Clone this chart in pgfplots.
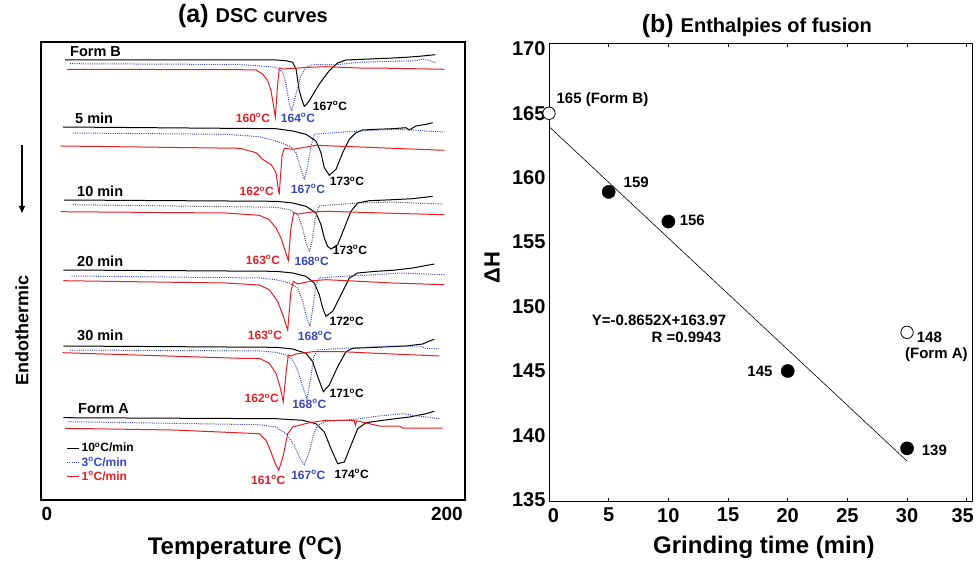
\documentclass[border=0pt]{standalone}
\usepackage{fontspec}
\setmainfont{Liberation Sans}
\usepackage{pgfplots}
\pgfplotsset{compat=1.18}
\usetikzlibrary{arrows.meta}
\definecolor{cred}{RGB}{228,30,36}
\definecolor{cblue}{RGB}{55,70,190}
\definecolor{cgray}{RGB}{80,80,80}
\newcommand{\F}[1]{\bfseries\fontsize{#1}{#1}\selectfont}
\newcommand{\dg}{\textsuperscript{o}}
\begin{document}
\begin{tikzpicture}
\path[use as bounding box] (0pt,0pt) rectangle (976pt,560pt);
% ---------------- (a) DSC curves ----------------
\begin{axis}[
  at={(41pt,60pt)}, anchor=south west, scale only axis,
  width=424pt, height=458pt,
  xmin=108.79, xmax=202.2, ymin=60, ymax=518,
  xtick={110.1,198.2}, xticklabels={0,200},
  xtick style={draw=none}, ytick=\empty,
  axis line style={line width=1.2pt},
  ticklabel style={font=\F{19}},
  xticklabel style={yshift=-4pt},
  /pgf/number format/assume math mode=true,
  clip=false,
  title={\F{25}(a)\ \F{20}DSC curves},
  title style={yshift=5pt},
  xlabel={Temperature (\dg C)},
  xlabel style={font=\F{24}, at={(axis description cs:0.481,0)}, anchor=center, yshift=-48pt},
  ylabel={Endothermic},
  ylabel style={font=\F{18}, at={(axis description cs:0,0.371)}, anchor=center, yshift=19pt},
  legend style={at={(axis description cs:0.06,0.035)}, anchor=south west, draw=none, fill=none,
    inner sep=0pt, font=\F{12}, cells={anchor=west}, row sep=0pt},
  legend image code/.code={\draw[#1] (0pt,0pt) -- (12pt,0pt);},
]
% Form B
\addplot[black, line width=1pt] coordinates {(114.08,500) (160.56,500) (162.76,499.3) (164.24,497.7) (164.97,491) (165.69,469.3) (166.29,460) (166.79,453.7) (167.17,455) (167.90,459.3) (170.10,476) (172.30,489.3) (174.15,497) (175.98,500) (186.27,502) (189.20,502.7) (192.13,503.7) (195.65,505.3)};
\addplot[cblue, line width=1pt, dash pattern=on 1pt off 1.2pt] coordinates {(115.18,496.3) (152.63,495.5) (160.56,492.7) (162.04,487.7) (162.76,476) (163.49,456) (164.02,449.3) (164.97,466) (166.07,484.3) (167.17,492.7) (168.64,495.3) (173.78,495.3) (178.84,497.7) (186.27,498.7) (191.40,499.3) (192.88,501) (194.33,499.5) (195.81,497)};
\addplot[cred, line width=1pt] coordinates {(114.52,490.7) (152.63,490.3) (156.15,490) (157.63,486) (158.73,479.3) (159.46,469.3) (159.96,456) (160.41,443) (160.93,476) (161.29,492) (162.04,491) (167.90,492.7) (171.57,493.3) (178.91,492) (186.27,491.7) (197.64,490.7)};
\legend{{\textcolor{black}{10\dg C/min}},{\textcolor{cblue}{3\dg C/min}},{\textcolor{cred}{1\dg C/min}}}
% 5 min
\addplot[black, line width=1pt] coordinates {(113.64,433) (160.56,431.3) (164.24,429) (167.17,425.7) (169.37,419) (170.47,407.3) (171.20,392.3) (172.30,384.7) (173.78,390.7) (175.25,407.3) (176.71,420.7) (178.18,427.3) (179.66,430) (182.59,430.7) (186.27,431.3) (189.20,432.3) (189.93,430) (191.40,434) (193.60,435.7) (195.08,437.3)};
\addplot[cblue, line width=1pt, dash pattern=on 1pt off 1.2pt] coordinates {(115.84,427) (149.54,425.7) (156.88,423.3) (160.56,419) (163.49,414) (164.97,407.3) (166.07,390.7) (166.79,380.7) (167.54,394) (168.27,414) (169.00,425.7) (171.57,426.7) (178.91,429) (186.27,430.7) (190.67,430) (193.60,429) (197.64,428)};
\addplot[cred, line width=1pt] coordinates {(113.13,414) (152.63,411.7) (156.15,407.3) (157.63,400.7) (158.73,397.3) (159.46,395.7) (160.56,387.3) (161.15,368) (161.29,366.7) (161.88,404) (162.39,411.7) (164.24,410.7) (166.44,412.3) (169.37,414.7) (178.91,413) (186.27,411.7) (197.64,409.7)};
% 10 min
\addplot[black, line width=1pt] coordinates {(113.86,360) (160.56,358.7) (164.24,357) (167.17,353.7) (169.37,347) (170.47,335.3) (171.20,322) (171.94,313.7) (172.68,311) (174.15,315.3) (175.61,332) (177.08,348.7) (178.56,357) (181.11,359.3) (186.27,360.3) (190.67,361.3) (195.08,363.7)};
\addplot[cgray, line width=1pt, dash pattern=on 1pt off 1.2pt] coordinates {(115.84,355.3) (160.56,352.7) (163.49,350.3) (165.34,345.3) (166.44,332) (167.17,317) (167.90,308) (168.49,318.7) (169.22,342) (169.97,353.7) (171.57,354.7) (178.91,357) (186.27,358) (190.67,357) (197.28,356)};
\addplot[cred, line width=1pt] coordinates {(113.13,348.3) (149.54,347) (156.88,344.7) (159.08,340.3) (160.56,332) (161.66,322) (162.61,308.7) (163.27,299.5) (163.86,332) (164.46,347) (165.34,346) (168.64,348) (171.57,348.7) (178.91,347.7) (186.27,346.7) (197.64,345.3)};
% 20 min
\addplot[black, line width=1pt] coordinates {(113.70,290) (160.56,288.7) (164.24,287) (167.17,283.7) (169.00,277) (170.10,265.3) (170.85,252) (171.57,243.7) (173.05,248.7) (174.88,265.3) (176.71,282) (178.56,287) (182.59,288.7) (186.27,289.7) (190.67,292) (195.43,296)};
\addplot[cblue, line width=1pt, dash pattern=on 1pt off 1.2pt] coordinates {(115.56,284) (156.88,282) (160.56,280.3) (163.49,277) (165.34,272) (166.44,258.7) (167.32,242) (168.05,233.5) (168.78,255.3) (169.37,275.3) (170.10,282) (175.25,283.7) (182.59,285.3) (187.72,287) (193.60,286) (197.64,285.3)};
\addplot[cred, line width=1pt] coordinates {(113.70,279.3) (149.54,277) (156.88,275) (159.08,270.3) (160.93,258.7) (162.04,245.3) (163.14,230) (163.86,268.7) (164.37,278.7) (165.34,276) (168.64,279.3) (171.57,280.3) (178.91,278.7) (186.27,277) (197.64,275.3)};
% 30 min
\addplot[black, line width=1pt] coordinates {(113.70,214) (160.56,212.7) (164.24,211) (167.17,206.7) (168.64,198.3) (169.75,183.3) (170.98,168.3) (172.30,175) (174.15,193.3) (175.98,208.3) (177.46,211.7) (182.59,212.7) (189.20,214) (192.88,216) (193.98,218.3) (195.43,220.7)};
\addplot[cblue, line width=1pt, dash pattern=on 1pt off 1.2pt] coordinates {(115.18,210) (156.88,209) (160.56,207.7) (162.76,205) (164.24,200) (165.34,190) (166.44,173.3) (167.39,161) (168.27,183.3) (168.86,203.3) (169.75,210) (175.25,211.7) (186.27,214) (192.13,214) (193.60,211.7) (196.53,211)};
\addplot[cred, line width=1pt] coordinates {(113.57,207.3) (152.63,201.7) (156.88,201.7) (159.08,196.7) (160.56,186.7) (161.44,173.3) (162.17,158.3) (162.76,186.7) (163.27,205) (163.86,204) (164.97,206) (168.64,208.3) (175.25,208.3) (182.59,206.7) (196.53,204)};
% Form A
\addplot[black, line width=1pt] coordinates {(113.70,142.3) (160.56,141.3) (166.44,139.7) (169.37,136.3) (171.20,128) (172.68,111.3) (174.15,96.3) (175.61,98) (177.08,114.7) (178.56,131.3) (180.39,137.3) (184.07,139.7) (189.93,143) (193.60,146.3) (195.43,148.7)};
\addplot[cblue, line width=1pt, dash pattern=on 1pt off 1.2pt] coordinates {(114.80,138.3) (156.88,135.3) (160.56,133) (162.76,126.3) (164.59,114.7) (165.85,101.3) (166.79,95.3) (167.90,108) (168.78,124.7) (169.75,134.7) (171.57,138.7) (175.25,139.7) (178.91,141.3) (182.59,143.7) (188.47,146.3) (190.67,144.7) (193.60,143) (196.53,141.3)};
\addplot[cred, line width=1pt] coordinates {(114.08,131.7) (137.87,130) (156.88,126.3) (158.36,119.7) (159.46,108) (160.34,97) (161.15,89.7) (161.66,97) (162.17,104.7) (163.14,126.3) (164.24,133) (167.90,137.3) (171.57,139.7) (175.25,139.7) (177.81,139.5) (178.03,134.7) (178.34,139.2) (181.11,136.3) (183.32,134) (187.72,134) (188.47,132) (197.28,132)};
% labels
\begin{scope}[every node/.style={inner sep=0pt}]
\node[anchor=west, font=\F{14.5}] at (axis cs:115.18,508) {Form B};
\node[text=cred, font=\F{12}] at (axis cs:155.49,442) {160\dg C};
\node[text=cblue, font=\F{12}] at (axis cs:165.41,442) {164\dg C};
\node[font=\F{12}] at (axis cs:172.46,454) {167\dg C};
\node[anchor=west, font=\F{14.5}] at (axis cs:116.28,442) {5 min};
\node[text=cred, font=\F{12}] at (axis cs:156.31,368.3) {162\dg C};
\node[text=cblue, font=\F{12}] at (axis cs:167.61,371) {167\dg C};
\node[font=\F{12}] at (axis cs:176.20,378.3) {173\dg C};
\node[anchor=west, font=\F{14.5}] at (axis cs:116.72,368.3) {10 min};
\node[text=cred, font=\F{12}] at (axis cs:157.70,300) {163\dg C};
\node[text=cblue, font=\F{12}] at (axis cs:168.42,298.3) {168\dg C};
\node[font=\F{12}] at (axis cs:176.86,310) {173\dg C};
\node[anchor=west, font=\F{14.5}] at (axis cs:116.72,298.3) {20 min};
\node[text=cred, font=\F{12}] at (axis cs:158.14,225) {163\dg C};
\node[text=cblue, font=\F{12}] at (axis cs:169.15,224) {168\dg C};
\node[font=\F{12}] at (axis cs:176.13,238.3) {172\dg C};
\node[anchor=west, font=\F{14.5}] at (axis cs:116.72,225) {30 min};
\node[text=cred, font=\F{12}] at (axis cs:157.41,161.7) {162\dg C};
\node[text=cblue, font=\F{12}] at (axis cs:167.90,156) {168\dg C};
\node[font=\F{12}] at (axis cs:176.13,166.7) {171\dg C};
\node[anchor=west, font=\F{14.5}] at (axis cs:116.94,151.7) {Form A};
\node[text=cred, font=\F{12}] at (axis cs:158.86,80) {161\dg C};
\node[text=cblue, font=\F{12}] at (axis cs:167.68,85) {167\dg C};
\node[font=\F{12}] at (axis cs:177.24,86) {174\dg C};
\end{scope}
\end{axis}
\draw[line width=1.1pt, -{Triangle[length=7pt,width=6pt]}] (22pt,415pt) -- (22pt,347pt);
% ---------------- (b) Enthalpies ----------------
\begin{axis}[
  at={(549pt,58.3pt)}, anchor=south west, scale only axis,
  width=423.7pt, height=458.4pt,
  xmin=0, xmax=35.5, ymin=134.86, ymax=170.43,
  xtick={0,5,...,35}, ytick={135,140,...,170},
  xticklabels={{\hspace*{9pt}0},5,10,15,20,25,30,{35\hspace*{8pt}}},
  tick align=inside, major tick length=4pt,
  xtick style={line width=0.8pt, black}, ytick style={draw=none},
  axis line style={line width=1pt},
  ticklabel style={font=\F{20}},
  xticklabel style={yshift=-3pt},
  /pgf/number format/assume math mode=true,
  clip=false,
  title={\F{25}(b)\ \F{20}Enthalpies of fusion},
  title style={xshift=-4pt, yshift=-4pt},
  xlabel={Grinding time (min)},
  xlabel style={font=\F{24}, at={(axis description cs:0.507,0)}, anchor=center, yshift=-46pt},
  ylabel={\F{22}\char"0394 H},
  ylabel style={at={(axis description cs:0,0.51)}, anchor=center, yshift=57pt},
]
\addplot[black, line width=0.6pt] coordinates {(0,163.97) (30,138.01)};
\addplot[only marks, mark=*, mark size=6.6pt, mark options={fill=black, draw=black}] coordinates {(5,158.9) (10,156.6) (20,145) (30,139)};
\addplot[only marks, mark=*, mark size=6.2pt, mark options={fill=white, draw=black, line width=0.8pt}] coordinates {(0,165) (30,148)};
\begin{scope}[every node/.style={inner sep=0pt, font=\F{15}}]
\node[anchor=west] at (axis cs:0.62,166.03) {165 (Form B)};
\node[anchor=west] at (axis cs:6.24,159.61) {159};
\node[anchor=west] at (axis cs:10.94,156.72) {156};
\node[anchor=east] at (axis cs:14.86,148.96) {Y=-0.8652X+163.97};
\node[anchor=east] at (axis cs:14.44,147.58) {R =0.9943};
\node[anchor=east] at (axis cs:18.74,144.95) {145};
\node[anchor=west] at (axis cs:30.80,147.62) {148};
\node[anchor=west] at (axis cs:29.82,146.24) {(Form A)};
\node[anchor=west] at (axis cs:31.22,138.87) {139};
\end{scope}
\end{axis}
\end{tikzpicture}
\end{document}
